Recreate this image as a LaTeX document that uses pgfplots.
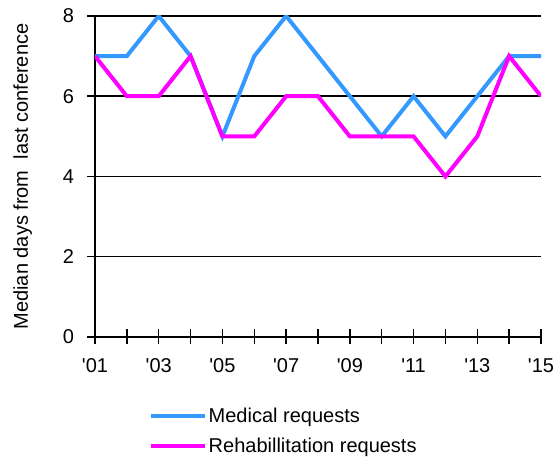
\documentclass[border=0pt]{standalone}
\usepackage{pgfplots}
\pgfplotsset{compat=1.18}
\usepackage{fontspec}
\setmainfont{Liberation Sans}
\definecolor{medblue}{RGB}{51,153,255}
\definecolor{rehabpink}{RGB}{255,0,255}
\begin{document}
\begin{tikzpicture}[font=\fontsize{20bp}{24bp}\selectfont]
\begin{axis}[
    scale only axis,
    width=446bp, height=321bp,
    xmin=1, xmax=15,
    ymin=0, ymax=8,
    axis lines=left,
    axis line style={-, line width=1.5bp},
    xtick={1,...,15},
    xticklabels={\textquotesingle01,,\textquotesingle03,,\textquotesingle05,,\textquotesingle07,,\textquotesingle09,,\textquotesingle11,,\textquotesingle13,,\textquotesingle15},
    ytick={0,2,4,6,8},
    tick align=center,
    major tick length=15bp,
    every tick/.style={black, line width=1.5bp},
    ymajorgrids,
    grid style={black, line width=1.5bp},
    /pgf/number format/assume math mode=true,
    ylabel={Median days from \ last conference},
    ylabel style={yshift=24bp},
    xticklabel style={yshift=-11bp},
    yticklabel style={xshift=-10bp},
    legend style={at={(0.12,-0.215)}, anchor=north west, draw=none,
        row sep=10bp, inner sep=0pt, nodes={inner xsep=2bp}},
    legend cell align={left},
    legend image code/.code={\draw[#1] (0bp,0bp) -- (54bp,0bp);},
]
\addplot[medblue, line width=4bp] coordinates {
    (1,7) (2,7) (3,8) (4,7) (5,5) (6,7) (7,8) (8,7)
    (9,6) (10,5) (11,6) (12,5) (13,6) (14,7) (15,7)
};
\addlegendentry{Medical requests}
\addplot[rehabpink, line width=4bp] coordinates {
    (1,7) (2,6) (3,6) (4,7) (5,5) (6,5) (7,6) (8,6)
    (9,5) (10,5) (11,5) (12,4) (13,5) (14,7) (15,6)
};
\addlegendentry{Rehabillitation requests}
\end{axis}
\path ([xshift=-95bp,yshift=-116bp]current axis.south west)
      ([xshift=18bp,yshift=16bp]current axis.north east);
\end{tikzpicture}
\end{document}
